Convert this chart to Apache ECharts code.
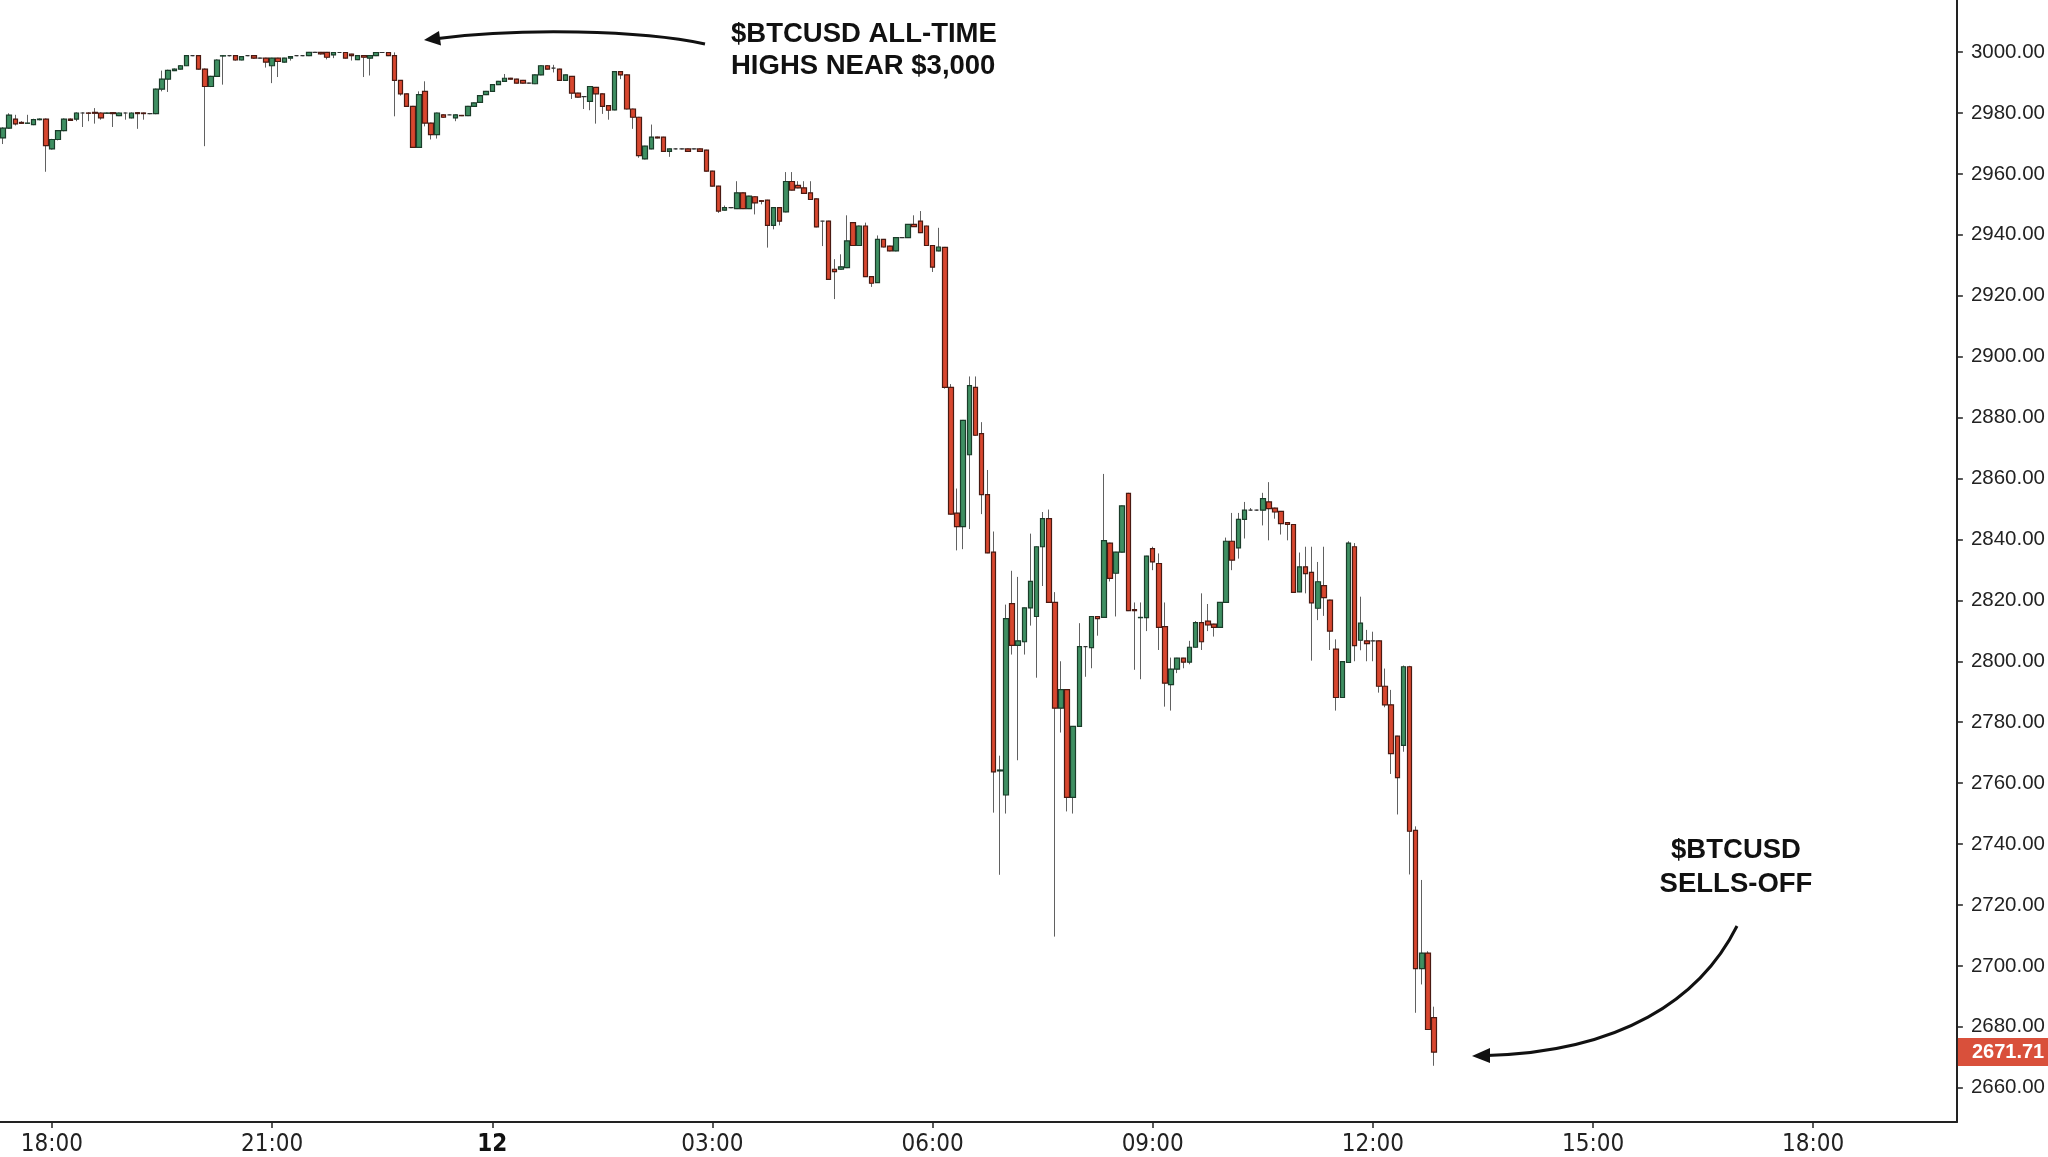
<!DOCTYPE html>
<html><head><meta charset="utf-8">
<script src="https://cdn.jsdelivr.net/npm/echarts@6/dist/echarts.min.js"></script>
<style>html,body{margin:0;padding:0;background:#fff}#c{width:2048px;height:1157px}</style>
</head><body><div id="c"></div>
<script>
// 5-minute candles, BTCUSD, starting 17:20
const startMinutes = 17 * 60 + 20;
const slotCount = 320; // axis runs to 19:55 next day

const open = [
2971.8,2975.0,2978.0,2976.9,2976.6,2976.2,2977.8,2978.0,2968.2,2971.3,
2974.2,2978.0,2978.0,2980.0,2980.0,2980.2,2980.0,2979.9,2980.1,2979.1,
2980.0,2978.4,2980.1,2980.0,2979.8,2979.8,2987.8,2991.1,2993.9,2994.4,
2995.5,2998.8,2998.8,2994.4,2988.7,2992.0,2998.7,2998.8,2998.8,2997.4,
2998.8,2998.8,2998.0,2998.0,2995.5,2998.0,2996.7,2998.0,2998.8,2998.8,
2998.8,2999.9,2999.9,2999.9,2999.1,2999.85,2999.85,2999.3,2997.5,2998.8,
2998.0,2998.8,2999.85,2999.85,2998.8,2990.7,2986.3,2982.2,2968.7,2987.1,
2976.7,2972.9,2979.4,2979.4,2978.4,2979.2,2979.1,2982.2,2983.5,2986.0,
2987.1,2989.3,2990.4,2991.4,2991.1,2990.7,2989.8,2989.6,2992.5,2995.5,
2994.7,2994.4,2990.7,2992.0,2986.5,2985.4,2983.8,2988.4,2986.3,2982.4,
2981.0,2993.6,2992.5,2981.3,2978.6,2964.9,2968.2,2972.1,2972.1,2967.4,
2968.2,2968.2,2968.2,2968.2,2968.2,2967.8,2960.9,2956.0,2948.1,2948.9,
2948.6,2953.8,2948.6,2952.5,2951.2,2951.4,2943.1,2948.9,2947.5,2957.5,
2956.2,2955.4,2953.8,2951.8,2944.5,2944.5,2928.7,2928.7,2929.2,2944.0,
2936.5,2942.9,2926.3,2924.3,2938.5,2936.3,2934.7,2939.1,2939.1,2943.4,
2944.5,2942.9,2936.5,2934.7,2935.9,2889.9,2848.6,2844.2,2867.8,2889.9,
2874.7,2854.7,2835.8,2764.0,2756.1,2818.9,2805.2,2806.4,2817.5,2814.7,
2837.6,2846.8,2819.3,2784.6,2790.7,2755.3,2778.6,2804.8,2804.5,2814.7,
2814.4,2838.8,2828.9,2835.8,2855.1,2817.0,2814.3,2814.3,2837.0,2832.1,
2811.4,2792.3,2797.4,2801.0,2799.7,2804.6,2812.7,2813.2,2812.2,2811.1,
2819.3,2839.4,2837.2,2846.6,2849.6,2849.6,2849.6,2852.3,2850.3,2849.2,
2845.5,2844.9,2822.8,2831.0,2829.2,2817.4,2824.8,2820.1,2804.0,2788.1,
2799.6,2837.6,2806.9,2806.7,2806.7,2806.7,2791.8,2785.7,2775.4,2772.4,
2798.2,2744.5,2699.1,2704.2,2683.0
];
const close = [
2975.0,2979.3,2976.4,2976.6,2976.7,2977.8,2978.0,2969.3,2971.3,2974.2,
2978.0,2977.6,2980.0,2980.0,2979.9,2979.9,2978.4,2980.0,2979.8,2980.0,
2980.0,2980.0,2979.8,2979.8,2979.8,2987.8,2991.1,2994.0,2994.4,2995.5,
2998.8,2998.8,2994.4,2988.7,2992.0,2997.4,2998.8,2998.8,2997.4,2998.5,
2998.8,2998.0,2998.0,2996.7,2998.0,2996.9,2998.0,2998.5,2998.8,2998.8,
2999.9,2999.9,2999.4,2998.3,2999.85,2999.85,2998.0,2998.8,2998.8,2998.3,
2998.8,2999.85,2999.85,2998.8,2990.7,2986.3,2982.2,2968.7,2986.0,2976.7,
2972.9,2980.0,2978.6,2979.4,2979.4,2979.1,2982.2,2983.3,2985.7,2987.1,
2989.3,2990.4,2991.4,2991.1,2989.8,2989.8,2989.8,2992.5,2995.5,2994.4,
2994.7,2990.7,2992.5,2986.5,2985.2,2985.4,2988.7,2986.3,2982.2,2980.9,
2993.6,2992.5,2981.3,2978.6,2966.0,2969.1,2972.1,2971.8,2967.4,2968.2,
2968.2,2968.2,2967.4,2968.2,2967.4,2960.9,2956.0,2947.8,2948.9,2948.9,
2953.8,2948.6,2952.7,2950.5,2951.0,2943.1,2948.9,2944.5,2957.5,2954.7,
2955.4,2953.6,2951.6,2942.6,2944.5,2925.4,2927.9,2929.5,2938.0,2936.5,
2942.9,2926.3,2924.1,2938.5,2936.0,2934.7,2939.1,2939.1,2943.4,2942.7,
2940.7,2936.5,2929.4,2936.0,2889.9,2848.3,2844.2,2879.1,2890.5,2874.2,
2854.7,2835.6,2763.7,2764.3,2814.0,2805.2,2806.7,2817.5,2826.2,2837.6,
2846.8,2819.3,2784.6,2790.7,2755.3,2778.6,2804.8,2804.8,2814.7,2814.0,
2839.6,2827.2,2835.8,2851.0,2816.6,2816.6,2814.4,2834.5,2832.6,2811.1,
2792.8,2797.4,2801.0,2799.7,2804.6,2812.7,2806.4,2811.9,2811.1,2819.3,
2839.4,2833.2,2846.6,2849.6,2849.6,2849.6,2853.4,2850.1,2849.0,2845.2,
2844.9,2822.6,2831.0,2828.8,2819.2,2826.1,2820.9,2809.9,2788.1,2799.9,
2838.8,2805.1,2812.5,2805.8,2806.7,2791.8,2785.7,2769.7,2761.8,2798.2,
2744.2,2699.1,2704.2,2679.1,2671.71
];
const low = [
2969.8,2974.8,2975.9,2976.4,2976.5,2976.0,2977.6,2960.7,2968.0,2971.0,
2974.0,2977.4,2977.3,2975.4,2977.3,2976.5,2977.8,2979.8,2975.4,2979.0,
2977.8,2978.2,2974.8,2977.8,2979.6,2979.6,2987.1,2986.9,2993.8,2994.3,
2995.4,2998.7,2994.2,2969.1,2988.5,2991.8,2989.3,2998.6,2997.2,2997.3,
2998.7,2997.8,2997.9,2994.9,2989.8,2991.8,2996.5,2997.2,2998.7,2998.7,
2998.7,2999.8,2999.2,2997.6,2998.0,2999.7,2997.9,2997.2,2997.4,2991.8,
2992.3,2998.7,2999.7,2998.7,2978.9,2985.7,2982.0,2968.6,2968.6,2975.6,
2971.3,2971.6,2978.5,2979.3,2977.3,2979.0,2979.0,2982.1,2983.4,2985.9,
2987.0,2989.2,2990.3,2991.0,2989.7,2989.7,2989.7,2989.5,2992.4,2994.3,
2993.3,2990.6,2990.6,2984.6,2985.1,2981.3,2980.9,2976.5,2979.7,2977.8,
2980.9,2991.1,2981.2,2974.8,2965.3,2964.8,2968.1,2971.7,2967.3,2965.6,
2968.1,2968.1,2967.3,2968.1,2967.3,2960.8,2955.9,2947.2,2948.0,2948.8,
2948.5,2948.5,2948.5,2946.7,2950.0,2935.8,2941.8,2943.1,2947.4,2954.6,
2955.3,2953.5,2951.5,2942.5,2936.3,2925.3,2918.9,2928.6,2929.1,2936.4,
2936.4,2926.2,2922.9,2924.2,2935.9,2934.6,2934.6,2939.0,2939.0,2942.6,
2940.6,2936.4,2927.8,2934.6,2889.5,2848.2,2836.4,2836.8,2843.4,2874.1,
2848.3,2835.5,2750.3,2729.9,2750.0,2802.2,2767.5,2802.2,2811.7,2794.6,
2824.7,2819.2,2709.6,2776.6,2750.7,2750.0,2778.5,2794.9,2797.7,2808.4,
2814.3,2826.2,2814.7,2835.7,2816.5,2797.2,2794.1,2809.9,2829.9,2803.7,
2785.1,2783.8,2796.1,2797.7,2799.0,2804.5,2803.7,2809.9,2808.1,2811.0,
2819.2,2829.9,2833.7,2840.3,2849.5,2849.5,2844.6,2839.7,2846.8,2841.6,
2839.7,2822.5,2822.7,2822.3,2800.2,2813.5,2814.9,2803.7,2783.8,2788.0,
2799.5,2800.0,2803.6,2800.0,2800.0,2789.7,2784.9,2763.0,2749.7,2770.3,
2730.0,2684.6,2693.9,2679.0,2667.2
];
const high = [
2975.3,2979.9,2979.4,2977.3,2979.4,2978.1,2978.2,2978.2,2971.5,2974.4,
2978.2,2978.2,2980.2,2980.2,2980.2,2981.6,2980.2,2980.1,2980.2,2980.1,
2980.1,2980.2,2980.2,2980.1,2980.0,2988.0,2993.9,2994.2,2994.6,2995.7,
2999.0,2998.9,2999.0,2994.6,2992.2,2997.6,2999.0,2999.0,2999.0,2998.7,
2998.9,2999.0,2998.1,2998.1,2998.1,2998.1,2998.1,2998.7,2998.9,2998.9,
3000.0,3000.0,3000.0,3000.0,2999.9,2999.9,2999.9,2999.4,2998.9,2998.9,
2998.9,2999.9,2999.9,2999.9,2999.9,2990.8,2986.4,2982.3,2987.1,2990.4,
2976.8,2980.1,2979.5,2979.5,2979.5,2979.3,2982.3,2983.4,2985.8,2987.2,
2989.4,2990.5,2992.8,2991.5,2991.2,2990.8,2989.9,2992.6,2995.6,2995.6,
2995.8,2994.5,2992.6,2992.1,2986.6,2985.5,2988.8,2988.5,2986.4,2982.5,
2993.7,2993.7,2992.6,2981.4,2978.7,2969.2,2976.2,2972.2,2972.2,2968.3,
2968.3,2968.3,2968.3,2968.3,2968.3,2967.9,2961.0,2956.1,2949.6,2949.0,
2957.6,2953.9,2952.8,2952.6,2951.4,2951.5,2949.0,2949.0,2960.6,2960.6,
2957.6,2957.6,2957.6,2951.9,2944.6,2944.6,2932.0,2933.6,2946.4,2944.0,
2943.0,2944.0,2926.4,2939.8,2938.6,2936.4,2939.1,2939.2,2943.5,2946.4,
2947.8,2943.0,2936.6,2942.3,2936.0,2891.0,2856.7,2879.2,2893.5,2893.5,
2878.5,2862.8,2842.6,2769.0,2818.6,2829.7,2827.7,2817.6,2841.9,2837.7,
2849.0,2849.8,2822.7,2800.0,2790.8,2778.7,2812.5,2804.9,2814.8,2814.8,
2861.5,2838.9,2835.9,2851.1,2855.3,2819.3,2819.3,2834.6,2837.6,2835.4,
2819.3,2801.2,2801.1,2801.1,2806.7,2813.2,2822.3,2818.8,2812.3,2819.4,
2840.6,2848.7,2848.7,2852.3,2850.3,2849.7,2855.3,2858.8,2850.4,2849.3,
2845.6,2845.0,2835.7,2837.6,2837.6,2832.6,2837.6,2820.2,2807.2,2800.0,
2839.4,2838.8,2821.2,2810.3,2809.7,2806.8,2797.6,2790.6,2775.5,2798.6,
2798.5,2745.8,2728.2,2704.8,2686.6
];
const tickTimes = ['18:00','21:00','00:00','03:00','06:00','09:00','12:00','15:00'];
const tickText = {'00:00': '12'};

const times = [];
for (let i = 0; i < slotCount; i++) {
  const m = (startMinutes + 5 * i) % 1440;
  const hh = String(Math.floor(m / 60)).padStart(2, '0');
  const mm = String(m % 60).padStart(2, '0');
  times.push(hh + ':' + mm);
}
const isTick = (idx, val) => tickTimes.indexOf(val) >= 0;

const wickData = open.map((o, i) => [o, close[i], low[i], high[i]]);
const bodyData = open.map((o, i) => [o, close[i], Math.min(o, close[i]), Math.max(o, close[i])]);
const lastClose = close[close.length - 1];

const FONT = '"Liberation Sans", Arial, Helvetica, sans-serif';
const NARROW = '"Liberation Sans Narrow", "Arial Narrow", "DejaVu Sans Condensed", sans-serif';

const chart = echarts.init(document.getElementById('c'), null, {renderer: 'canvas'});
chart.setOption({
  animation: false,
  backgroundColor: '#ffffff',
  grid: {left: 0, right: 89, top: 0, bottom: 31, containLabel: false},
  xAxis: {
    type: 'category',
    data: times,
    boundaryGap: true,
    axisLine: {show: true, lineStyle: {color: '#222', width: 2}},
    axisTick: {show: true, alignWithLabel: true, interval: isTick, length: 6, lineStyle: {color: '#222', width: 1.5}},
    axisLabel: {
      interval: isTick, margin: 11, color: '#222', fontSize: 24, fontFamily: NARROW,
      formatter: v => tickText[v] ? '{b|' + tickText[v] + '}' : v,
      rich: {b: {fontWeight: 'bold', fontSize: 24, fontFamily: NARROW, color: '#111'}}
    },
    splitLine: {show: false}
  },
  yAxis: {
    type: 'value',
    position: 'right',
    min: 2648.74, max: 3017.09,
    splitNumber: 18, minInterval: 20, maxInterval: 20,
    axisLine: {show: true, lineStyle: {color: '#222', width: 2}},
    axisTick: {show: true, length: 6, lineStyle: {color: '#222', width: 1.5}},
    axisLabel: {
      margin: 14, color: '#222', fontSize: 20.5, fontFamily: FONT,
      showMinLabel: false, showMaxLabel: false,
      formatter: v => v.toFixed(2)
    },
    splitLine: {show: false}
  },
  series: [
    {
      name: 'wick', type: 'candlestick', data: wickData, barWidth: 1.4,
      itemStyle: {color: '#616161', color0: '#616161', borderColor: '#616161', borderColor0: '#616161', borderColorDoji: '#616161', borderWidth: 1}
    },
    {
      name: 'body', type: 'candlestick', data: bodyData, barWidth: 5,
      itemStyle: {color: '#3f8f62', color0: '#d8472f', borderColor: '#1b3d2a', borderColor0: '#4a1a12', borderColorDoji: '#333333', borderWidth: 1.2},
      markLine: {
        silent: true, symbol: ['none', 'none'],
        lineStyle: {color: 'rgba(0,0,0,0)', width: 0},
        data: [{yAxis: lastClose}],
        label: {
          show: true, position: 'end', distance: 1,
          formatter: () => lastClose.toFixed(2),
          backgroundColor: '#d9503b', color: '#ffffff', fontSize: 20, fontWeight: 'bold', fontFamily: FONT,
          padding: [4, 4, 4, 14]
        }
      }
    }
  ],
  graphic: [
    {type: 'text', x: 731, y: 34, style: {text: '$BTCUSD ALL-TIME', fontSize: 27.5, fontWeight: 'bold', fontFamily: FONT, fill: '#111', align: 'left', verticalAlign: 'middle'}},
    {type: 'text', x: 731, y: 66, style: {text: 'HIGHS NEAR $3,000', fontSize: 27.5, fontWeight: 'bold', fontFamily: FONT, fill: '#111', align: 'left', verticalAlign: 'middle'}},
    {type: 'bezierCurve', shape: {x1: 705, y1: 44, cpx1: 640, cpy1: 30, cpx2: 520, cpy2: 28, x2: 438, y2: 38.5}, style: {stroke: '#111', lineWidth: 3, fill: null}},
    {type: 'polygon', shape: {points: [[424, 40], [441, 45.5], [439, 31]]}, style: {fill: '#111'}},
    {type: 'text', x: 1736, y: 850, style: {text: '$BTCUSD', fontSize: 27.5, fontWeight: 'bold', fontFamily: FONT, fill: '#111', align: 'center', verticalAlign: 'middle'}},
    {type: 'text', x: 1736, y: 884, style: {text: 'SELLS-OFF', fontSize: 27.5, fontWeight: 'bold', fontFamily: FONT, fill: '#111', align: 'center', verticalAlign: 'middle'}},
    {type: 'bezierCurve', shape: {x1: 1737, y1: 926, cpx1: 1700, cpy1: 1000, cpx2: 1620, cpy2: 1052, x2: 1487, y2: 1055.5}, style: {stroke: '#111', lineWidth: 3, fill: null}},
    {type: 'polygon', shape: {points: [[1472, 1056], [1490, 1048], [1490, 1063]]}, style: {fill: '#111'}}
  ]
});
</script></body></html>
